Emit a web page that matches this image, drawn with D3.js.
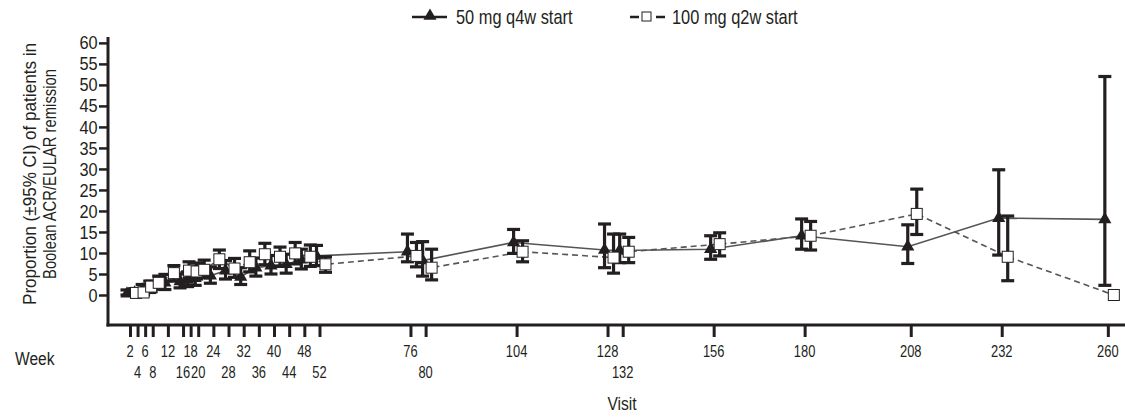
<!DOCTYPE html>
<html><head><meta charset="utf-8">
<script src="https://cdn.jsdelivr.net/npm/d3@7"></script>
<style>body{margin:0;background:#fff}text{font-family:"Liberation Sans",Arial,sans-serif;fill:#231f20}</style>
</head><body><svg id="c" width="1125" height="417"></svg>
<script>
const weeks = [2,4,6,8,12,16,18,20,24,28,32,36,40,44,48,52,76,80,104,128,132,156,180,208,232,260];
const tickRow1 = [2,6,12,18,24,32,40,48,76,104,128,156,180,208,232,260];
const tickRow2 = [4,8,16,20,28,36,44,52,80,132];
const yTicks = [0,5,10,15,20,25,30,35,40,45,50,55,60];

const q4wValue = [0.3,0.5,1.2,1.8,2.9,3.2,3.6,4.0,4.6,5.8,4.3,6.5,7.0,7.3,8.4,9.3,10.3,8.2,12.5,10.7,10.6,10.9,14.1,11.5,18.3,18.0];
const q4wLower = [0,0,0.2,0.6,1.3,1.7,2.0,2.3,2.8,3.8,2.5,4.5,5.0,5.2,6.2,7.0,7.9,4.5,9.9,6.5,7.7,8.5,10.9,7.5,9.5,2.3];
const q4wUpper = [1.2,1.5,2.5,3.3,4.9,5.0,5.5,6.0,6.7,8.2,6.5,8.8,9.4,9.7,10.9,11.8,14.5,12.7,15.6,16.9,14.5,14.1,18.1,16.7,29.8,52.0];

const q2wValue = [0.5,0.6,2.0,2.9,5.2,5.8,5.6,6.0,8.5,6.3,7.8,9.7,9.1,9.9,9.1,7.3,9.3,6.5,10.3,8.9,10.3,12.1,14.1,19.3,9.1,0.0];
const q2wLower = [0,0,0.8,1.4,3.4,4.0,3.8,4.1,6.3,4.2,5.5,7.2,6.8,7.4,6.8,5.4,6.7,3.6,7.9,5.2,7.7,9.3,10.7,14.4,3.4,0];
const q2wUpper = [1.5,1.6,3.3,4.5,7.0,7.9,7.6,8.3,10.7,8.7,10.5,12.3,11.4,12.5,11.9,9.1,12.5,10.9,12.9,14.5,13.7,14.8,17.5,25.2,18.8,0];

const seriesNames = ["50 mg q4w start","100 mg q2w start"];

const svg = d3.select("#c");
const x = d3.scaleLinear().domain([-3.8, 264]).range([108, 1123]);
const y = d3.scaleLinear().domain([-7.14, 61.4]).range([325, 37]);
const yAxisX = x(-3.8), xAxisY = y(-7.14);

// y axis
const gy = svg.append("g").attr("transform", `translate(${yAxisX},0)`)
  .call(d3.axisLeft(y).tickValues(yTicks).tickSize(9).tickPadding(3).tickFormat(d3.format("d")));
gy.select(".domain").remove();
gy.selectAll(".tick line").attr("stroke","#231f20").attr("stroke-width",2.5);
gy.selectAll(".tick text").style("font-size","19px").attr("fill","#231f20").attr("transform","scale(0.86,1)");
svg.append("line").attr("x1",yAxisX).attr("x2",yAxisX).attr("y1",y(61.4)).attr("y2",xAxisY+1.5)
  .attr("stroke","#231f20").attr("stroke-width",3);

// x axis
svg.append("line").attr("x1",yAxisX-1.5).attr("x2",1125).attr("y1",xAxisY).attr("y2",xAxisY)
  .attr("stroke","#231f20").attr("stroke-width",3);
const gx = svg.append("g").attr("transform",`translate(0,${xAxisY})`)
  .call(d3.axisBottom(x).tickValues(weeks).tickSize(12).tickFormat(""));
gx.select(".domain").remove();
gx.selectAll(".tick line").attr("stroke","#231f20").attr("stroke-width",3);
svg.append("g").selectAll("text").data(tickRow1).join("text")
  .attr("transform",d=>`translate(${x(d)},357) scale(0.76,1)`).attr("text-anchor","middle").style("font-size","17px").text(d=>d);
svg.append("g").selectAll("text").data(tickRow2).join("text")
  .attr("transform",d=>`translate(${x(d)},378) scale(0.76,1)`).attr("text-anchor","middle").style("font-size","17px").text(d=>d);

svg.append("text").attr("transform","translate(15,365) scale(0.82,1)").style("font-size","19px").text("Week");
svg.append("text").attr("transform","translate(622,410) scale(0.82,1)").attr("text-anchor","middle").style("font-size","19px").text("Visit");

// y title
const yt = svg.append("text").attr("transform","translate(0,174) rotate(-90)").attr("text-anchor","middle").style("font-size","18.5px");
yt.append("tspan").attr("x",0).attr("y",36).attr("textLength",262).attr("lengthAdjust","spacingAndGlyphs").text("Proportion (±95% CI) of patients in");
yt.append("tspan").attr("x",0).attr("y",56).attr("textLength",210).attr("lengthAdjust","spacingAndGlyphs").text("Boolean ACR/EULAR remission");

// series
const triOff = -3, sqOff = 6;
const mk = (vals, lo, hi, off) => weeks.map((w,i)=>({w, v:vals[i], lo:lo[i], hi:hi[i], off}));
const s1 = mk(q4wValue,q4wLower,q4wUpper,triOff);
const s2 = mk(q2wValue,q2wLower,q2wUpper,sqOff);
const line = d3.line().x(d=>x(d.w)+d.off).y(d=>y(d.v));

svg.append("path").datum(s1).attr("d",line).attr("fill","none").attr("stroke","#555").attr("stroke-width",1.6);
svg.append("path").datum(s2).attr("d",line).attr("fill","none").attr("stroke","#555").attr("stroke-width",1.6).attr("stroke-dasharray","6,4");

function bars(data){
  const g = svg.append("g").attr("stroke","#231f20").attr("stroke-width",3.2);
  const d2 = data.filter(d=>d.hi>d.lo);
  g.selectAll(".v").data(d2).join("line").attr("x1",d=>x(d.w)+d.off).attr("x2",d=>x(d.w)+d.off).attr("y1",d=>y(d.lo)).attr("y2",d=>y(d.hi));
  g.selectAll(".t").data(d2).join("line").attr("x1",d=>x(d.w)+d.off-6.5).attr("x2",d=>x(d.w)+d.off+6.5).attr("y1",d=>y(d.hi)).attr("y2",d=>y(d.hi));
  g.selectAll(".b").data(d2).join("line").attr("x1",d=>x(d.w)+d.off-6.5).attr("x2",d=>x(d.w)+d.off+6.5).attr("y1",d=>y(d.lo)).attr("y2",d=>y(d.lo));
}
const tri = d3.symbol().type(d3.symbolTriangle).size(75);
bars(s1);
svg.append("g").selectAll("path").data(s1).join("path").attr("d",tri)
  .attr("transform",d=>`translate(${x(d.w)+d.off},${y(d.v)})`).attr("fill","#231f20");
bars(s2);
svg.append("g").selectAll("rect").data(s2).join("rect")
  .attr("x",d=>x(d.w)+d.off-5.5).attr("y",d=>y(d.v)-5.5).attr("width",11).attr("height",11)
  .attr("fill","#fff").attr("stroke","#231f20").attr("stroke-width",1);

// legend
const lg = svg.append("g");
lg.append("line").attr("x1",412).attr("x2",447).attr("y1",17).attr("y2",17).attr("stroke","#231f20").attr("stroke-width",2.5);
lg.append("path").attr("d",tri).attr("transform","translate(430,16)").attr("fill","#231f20");
lg.append("text").attr("transform","translate(456,24) scale(0.82,1)").style("font-size","20px").text(seriesNames[0]);
lg.append("line").attr("x1",630).attr("x2",665).attr("y1",17).attr("y2",17).attr("stroke","#231f20").attr("stroke-width",2.5).attr("stroke-dasharray","9,17");
lg.append("rect").attr("x",642).attr("y",12).attr("width",9).attr("height",9).attr("fill","#fff").attr("stroke","#231f20");
lg.append("text").attr("transform","translate(672,24) scale(0.82,1)").style("font-size","20px").text(seriesNames[1]);
</script></body></html>
